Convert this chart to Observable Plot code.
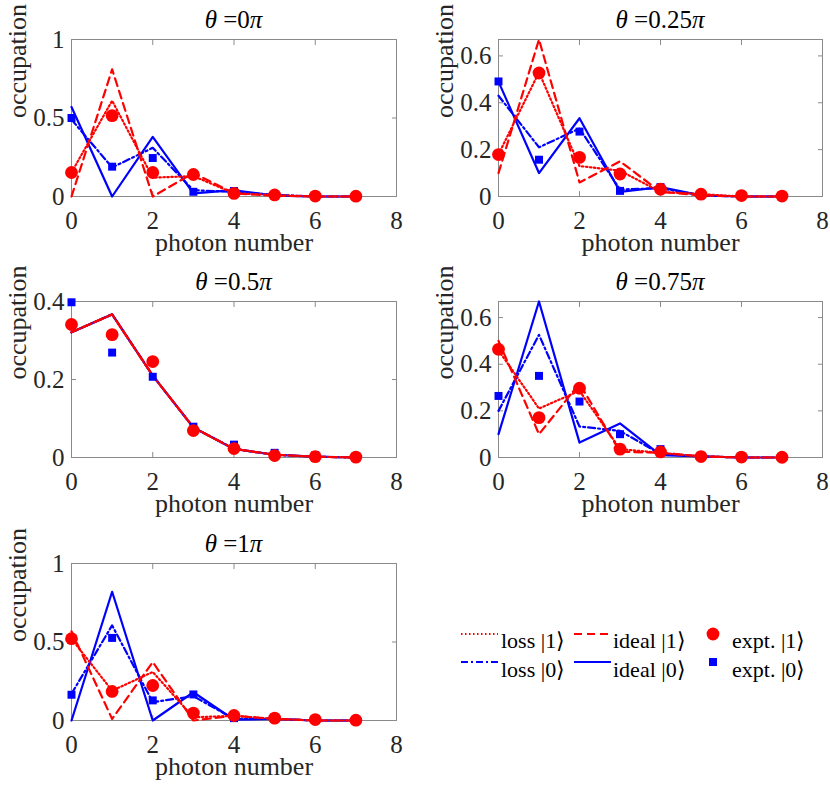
<!DOCTYPE html>
<html><head><meta charset="utf-8">
<script src="https://cdn.jsdelivr.net/npm/d3@7"></script>
<script src="https://cdn.jsdelivr.net/npm/@observablehq/plot@0.6"></script>
<style>
body{margin:0;background:#fff;}
#root{position:relative;width:830px;height:793px;font-family:"Liberation Serif","Times New Roman",serif;color:#262626;overflow:hidden;}
.panel{position:absolute;}
.title{position:absolute;text-align:center;font-size:25px;line-height:25px;color:#000;white-space:nowrap;}
.leg{position:absolute;font-size:22px;line-height:22px;color:#000;white-space:nowrap;}
.sw{position:absolute;}
</style></head><body><div id="root"></div>
<script>
// ---- data ----
const photonNumber = [0, 1, 2, 3, 4, 5, 6, 7];
const thetaValues = ["0", "0.25", "0.5", "0.75", "1"];
const yMax = [1, 0.67, 0.4, 0.669, 1];
const yTicks = [[0, 0.5, 1], [0, 0.2, 0.4, 0.6], [0, 0.2, 0.4], [0, 0.2, 0.4, 0.6], [0, 0.5, 1]];
const xTicks = [0, 2, 4, 6, 8];
const xLabel = "photon number";
const yLabel = "occupation";

const idealZero = [
  [0.57, 0.0, 0.38, 0.02, 0.04, 0.005, 0, 0],
  [0.49, 0.10, 0.334, 0.02, 0.04, 0.005, 0, 0],
  [0.321, 0.367, 0.21, 0.077, 0.022, 0.007, 0.002, 0],
  [0.10, 0.669, 0.064, 0.146, 0.01, 0.005, 0, 0],
  [0.0, 0.82, 0.0, 0.18, 0.005, 0.01, 0, 0]
];
const lossZero = [
  [0.49, 0.185, 0.31, 0.04, 0.03, 0.01, 0, 0],
  [0.43, 0.21, 0.29, 0.03, 0.035, 0.005, 0, 0],
  [0.321, 0.367, 0.21, 0.077, 0.022, 0.007, 0.002, 0],
  [0.20, 0.526, 0.133, 0.114, 0.015, 0.005, 0, 0],
  [0.17, 0.606, 0.117, 0.155, 0.01, 0.01, 0, 0]
];
const idealOne = [
  [0.0, 0.81, 0.0, 0.15, 0.02, 0.005, 0, 0],
  [0.10, 0.67, 0.06, 0.15, 0.02, 0.005, 0, 0],
  [0.321, 0.367, 0.21, 0.077, 0.022, 0.007, 0.002, 0],
  [0.50, 0.10, 0.317, 0.025, 0.02, 0.005, 0, 0],
  [0.568, 0.01, 0.372, 0.0, 0.03, 0.01, 0, 0]
];
const lossOne = [
  [0.153, 0.61, 0.12, 0.13, 0.02, 0.01, 0, 0],
  [0.18, 0.53, 0.13, 0.11, 0.02, 0.01, 0, 0],
  [0.321, 0.367, 0.21, 0.077, 0.022, 0.007, 0.002, 0],
  [0.46, 0.21, 0.286, 0.036, 0.02, 0.005, 0, 0],
  [0.52, 0.19, 0.309, 0.02, 0.03, 0.01, 0, 0]
];
const exptOne = [
  [0.153, 0.515, 0.153, 0.14, 0.02, 0.01, 0.003, 0.002],
  [0.179, 0.527, 0.167, 0.096, 0.031, 0.01, 0.004, 0.002],
  [0.341, 0.315, 0.246, 0.069, 0.023, 0.005, 0.002, 0.001],
  [0.464, 0.171, 0.297, 0.036, 0.024, 0.004, 0.002, 0.001],
  [0.521, 0.185, 0.223, 0.047, 0.032, 0.015, 0.006, 0.002]
];
const exptZero = [
  [0.50, 0.19, 0.245, 0.03, 0.035, 0.01, 0.002, 0],
  [0.491, 0.157, 0.277, 0.024, 0.04, 0.005, 0.002, 0],
  [0.398, 0.269, 0.207, 0.079, 0.033, 0.012, 0.006, 0.001],
  [0.264, 0.35, 0.24, 0.10, 0.036, 0.007, 0.003, 0],
  [0.164, 0.526, 0.128, 0.166, 0.015, 0.02, 0.005, 0]
];
const legendLabels = ["loss |1⟩", "ideal |1⟩", "expt. |1⟩", "loss |0⟩", "ideal |0⟩", "expt. |0⟩"];

// ---- layout / styles ----
const RED = "#ff0000", BLUE = "#0000ff", AX = "#262626", BOX = "#8a8a8a";
const FONT = '"Liberation Serif", serif';
const panels = [
  {left: 0, top: 0, mt: 39, mb: 74, ml: 71, mr: 19},
  {left: 415, top: 0, mt: 39, mb: 74, ml: 83, mr: 8},
  {left: 0, top: 260, mt: 41, mb: 73, ml: 71, mr: 19},
  {left: 415, top: 260, mt: 41, mb: 73, ml: 83, mr: 8},
  {left: 0, top: 525, mt: 38, mb: 75, ml: 71, mr: 19}
];
const DOT = "1.5,2.5", DASH = "8,5", DASHDOT = "7,3,2,3";
const LW = 2.2;
const lineStyles = [
  {series: idealZero, stroke: BLUE, dash: null},
  {series: lossZero, stroke: BLUE, dash: DASHDOT},
  {series: idealOne, stroke: RED, dash: DASH},
  {series: lossOne, stroke: RED, dash: DOT}
];

const root = document.getElementById("root");
const rows = (arr) => photonNumber.map((n, i) => ({n, v: arr[i]}));
const fmt = d => String(d);
const blank = () => "";

panels.forEach((P, p) => {
  const H = 270, W = 415;
  const marks = [
    Plot.frame({stroke: BOX, strokeWidth: 1}),
    Plot.axisX(xTicks, {anchor: "bottom", tickSize: -5, tickFormat: blank, stroke: BOX, label: null}),
    Plot.axisX(xTicks, {anchor: "top", tickSize: -5, tickFormat: blank, stroke: BOX, label: null}),
    Plot.axisY(yTicks[p], {anchor: "left", tickSize: -5, tickFormat: blank, stroke: BOX, label: null}),
    Plot.axisY(yTicks[p], {anchor: "right", tickSize: -5, tickFormat: blank, stroke: BOX, label: null}),
    Plot.text(xTicks, {x: d => d, frameAnchor: "bottom", dy: 15, lineAnchor: "top", text: fmt, fontSize: 25, fontFamily: FONT, fill: AX}),
    Plot.text(yTicks[p], {y: d => d, frameAnchor: "left", dx: -7, textAnchor: "end", text: fmt, fontSize: 25, fontFamily: FONT, fill: AX}),
    Plot.text([xLabel], {frameAnchor: "bottom", dy: 54, text: d => d, fontSize: 26, fontFamily: FONT, fill: AX}),
    Plot.text([yLabel], {frameAnchor: "left", dx: -54, rotate: -90, text: d => d, fontSize: 26, fontFamily: FONT, fill: AX})
  ];
  lineStyles.forEach(s => {
    marks.push(Plot.line(rows(s.series[p]), {x: "n", y: "v", stroke: s.stroke, strokeWidth: LW, strokeDasharray: s.dash}));
  });
  marks.push(Plot.dot(rows(exptZero[p]), {x: "n", y: "v", symbol: "square", r: 4.5, fill: BLUE, stroke: "none"}));
  marks.push(Plot.dot(rows(exptOne[p]), {x: "n", y: "v", symbol: "circle", r: 6.4, fill: RED, stroke: "none"}));

  const svg = Plot.plot({
    width: W, height: H,
    marginTop: P.mt, marginBottom: P.mb, marginLeft: P.ml, marginRight: P.mr,
    x: {domain: [0, 8], axis: null},
    y: {domain: [0, yMax[p]], axis: null},
    style: {fontFamily: FONT, background: "transparent", overflow: "visible"},
    marks
  });
  const div = document.createElement("div");
  div.className = "panel";
  div.style.left = P.left + "px";
  div.style.top = P.top + "px";
  div.appendChild(svg);
  root.appendChild(div);

  const t = document.createElement("div");
  t.className = "title";
  t.style.left = (P.left + P.ml) + "px";
  t.style.width = (W - P.ml - P.mr) + "px";
  t.style.top = (P.top + P.mt - 32) + "px";
  t.innerHTML = `<i>θ</i> =${thetaValues[p]}<i>π</i>`;
  root.appendChild(t);
});

// ---- legend ----
const legendItems = [
  {x: 461, y: 634, kind: "line", stroke: RED, dash: DOT},
  {x: 574, y: 634, kind: "line", stroke: RED, dash: DASH},
  {x: 713, y: 634, kind: "circle", stroke: RED},
  {x: 461, y: 662, kind: "line", stroke: BLUE, dash: DASHDOT},
  {x: 574, y: 662, kind: "line", stroke: BLUE, dash: null},
  {x: 713, y: 662, kind: "square", stroke: BLUE}
];
const textX = [501, 613, 732, 501, 613, 732];
const textBaseline = [648, 648, 648, 677, 677, 677];
legendItems.forEach((it, i) => {
  const ns = "http://www.w3.org/2000/svg";
  const s = document.createElementNS(ns, "svg");
  s.setAttribute("class", "sw");
  if (it.kind === "line") {
    s.setAttribute("width", 38); s.setAttribute("height", 10);
    s.style.left = it.x + "px"; s.style.top = (it.y - 5) + "px";
    const l = document.createElementNS(ns, "line");
    l.setAttribute("x1", 0); l.setAttribute("x2", 37); l.setAttribute("y1", 5); l.setAttribute("y2", 5);
    l.setAttribute("stroke", it.stroke); l.setAttribute("stroke-width", LW);
    if (it.dash) l.setAttribute("stroke-dasharray", it.dash);
    s.appendChild(l);
  } else {
    s.setAttribute("width", 16); s.setAttribute("height", 16);
    s.style.left = (it.x - 8) + "px"; s.style.top = (it.y - 8) + "px";
    const m = document.createElementNS(ns, it.kind === "circle" ? "circle" : "rect");
    if (it.kind === "circle") { m.setAttribute("cx", 8); m.setAttribute("cy", 8); m.setAttribute("r", 6.4); }
    else { m.setAttribute("x", 4); m.setAttribute("y", 4); m.setAttribute("width", 8); m.setAttribute("height", 8); }
    m.setAttribute("fill", it.stroke);
    s.appendChild(m);
  }
  root.appendChild(s);
  const d = document.createElement("div");
  d.className = "leg";
  d.style.left = textX[i] + "px";
  d.style.top = (textBaseline[i] - 18.4) + "px";
  d.textContent = legendLabels[i];
  root.appendChild(d);
});
</script></body></html>
